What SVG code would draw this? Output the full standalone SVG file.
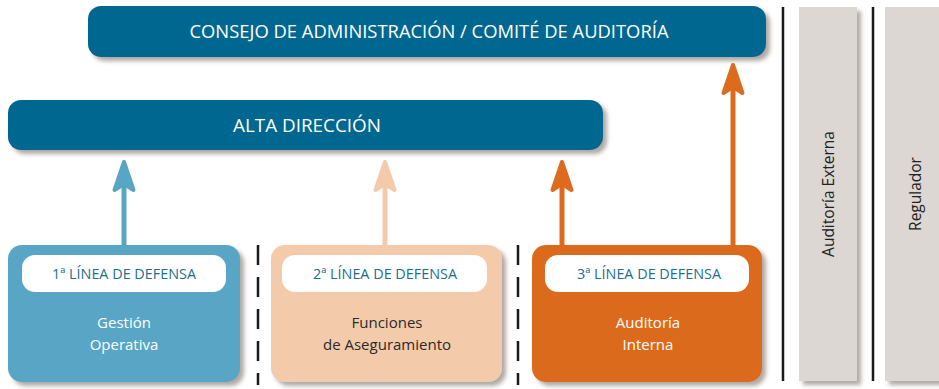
<svg xmlns="http://www.w3.org/2000/svg" xmlns:xlink="http://www.w3.org/1999/xlink" width="939" height="389" viewBox="0 0 939 389">
<defs>
<filter id="sh" x="-10%" y="-10%" width="130%" height="140%">
<feDropShadow dx="4" dy="4" stdDeviation="2" flood-color="#7d7065" flood-opacity="0.6"/>
</filter>
<path id="head" d="M0,2 L9.5,30 L0,24 L-9.5,30 Z" stroke-width="4" stroke-linejoin="round"/>
</defs>
<style>
text{font-family:"Open Sans","Liberation Sans",sans-serif}
.top{fill:#026890}
.ttl{fill:#fff;font-size:19px;text-anchor:middle}
.lbl{fill:#fff}
.ltx{fill:#1d6f8e;font-size:14.5px;text-anchor:middle}
.btx{font-size:15px;text-anchor:middle}
.sep{stroke:#1a1a1a;stroke-width:2.5;stroke-dasharray:20 12}
.vl{stroke:#1a1a1a;stroke-width:2.5}
.side{fill:#dcd7d2}
.stx{fill:#222;font-size:15.5px;text-anchor:middle}
</style>

<g id="consejo">
<rect class="top" x="88" y="6" width="678" height="51" rx="13" filter="url(#sh)"/>
<text class="ttl" x="429" y="38" textLength="479" lengthAdjust="spacingAndGlyphs">CONSEJO DE ADMINISTRACIÓN / COMITÉ DE AUDITORÍA</text>
</g>
<g id="alta">
<rect class="top" x="8" y="100" width="595" height="50" rx="13" filter="url(#sh)"/>
<text class="ttl" x="307" y="132" textLength="148" lengthAdjust="spacingAndGlyphs">ALTA DIRECCIÓN</text>
</g>

<g id="connectors">
<line x1="124" y1="246" x2="124" y2="182" stroke="#58a5c6" stroke-width="5"/>
<use xlink:href="#head" transform="translate(124,160)" fill="#58a5c6" stroke="#58a5c6"/>
<line x1="385" y1="246" x2="385" y2="182" stroke="#f4cbaa" stroke-width="5"/>
<use xlink:href="#head" transform="translate(385,160)" fill="#f4cbaa" stroke="#f4cbaa"/>
<line x1="562" y1="246" x2="562" y2="182" stroke="#dc6b1e" stroke-width="5"/>
<use xlink:href="#head" transform="translate(562,160)" fill="#dc6b1e" stroke="#dc6b1e"/>
<line x1="733" y1="246" x2="733" y2="85" stroke="#dc6b1e" stroke-width="5"/>
<use xlink:href="#head" transform="translate(733,63)" fill="#dc6b1e" stroke="#dc6b1e"/>
</g>

<g id="linea1">
<rect x="8" y="245" width="232" height="137" rx="14" fill="#58a5c6" filter="url(#sh)"/>
<rect class="lbl" x="22" y="255" width="204" height="37" rx="13"/>
<text class="ltx" x="124" y="279" textLength="144" lengthAdjust="spacingAndGlyphs">1ª LÍNEA DE DEFENSA</text>
<text class="btx" x="124" y="328" fill="#fff">Gestión</text>
<text class="btx" x="124" y="350" fill="#fff">Operativa</text>
</g>
<g id="linea2">
<rect x="271" y="245" width="231" height="137" rx="14" fill="#f4cbaa" filter="url(#sh)"/>
<rect class="lbl" x="282" y="255" width="205" height="37" rx="13"/>
<text class="ltx" x="385" y="279" textLength="144" lengthAdjust="spacingAndGlyphs">2ª LÍNEA DE DEFENSA</text>
<text class="btx" x="387" y="328" fill="#2a2a2a">Funciones</text>
<text class="btx" x="387" y="350" fill="#2a2a2a">de Aseguramiento</text>
</g>
<g id="linea3">
<rect x="532" y="245" width="230" height="137" rx="14" fill="#dc6b1e" filter="url(#sh)"/>
<rect class="lbl" x="545" y="255" width="204" height="37" rx="13"/>
<text class="ltx" x="649" y="279" textLength="144" lengthAdjust="spacingAndGlyphs">3ª LÍNEA DE DEFENSA</text>
<text class="btx" x="648" y="328" fill="#fff">Auditoría</text>
<text class="btx" x="648" y="350" fill="#fff">Interna</text>
</g>

<g id="separators">
<line class="sep" x1="258" y1="245" x2="258" y2="385"/>
<line class="sep" x1="518" y1="245" x2="518" y2="385"/>
<line class="vl" x1="783" y1="7" x2="783" y2="381"/>
<line class="vl" x1="873" y1="7" x2="873" y2="381"/>
</g>

<g id="auditoria-externa">
<rect class="side" x="799" y="7" width="58" height="374" filter="url(#sh)"/>
<text class="stx" transform="translate(834,194) rotate(-90)">Auditoría Externa</text>
</g>
<g id="regulador">
<rect class="side" x="885" y="7" width="60" height="374" filter="url(#sh)"/>
<text class="stx" transform="translate(921,194) rotate(-90)">Regulador</text>
</g>
</svg>
